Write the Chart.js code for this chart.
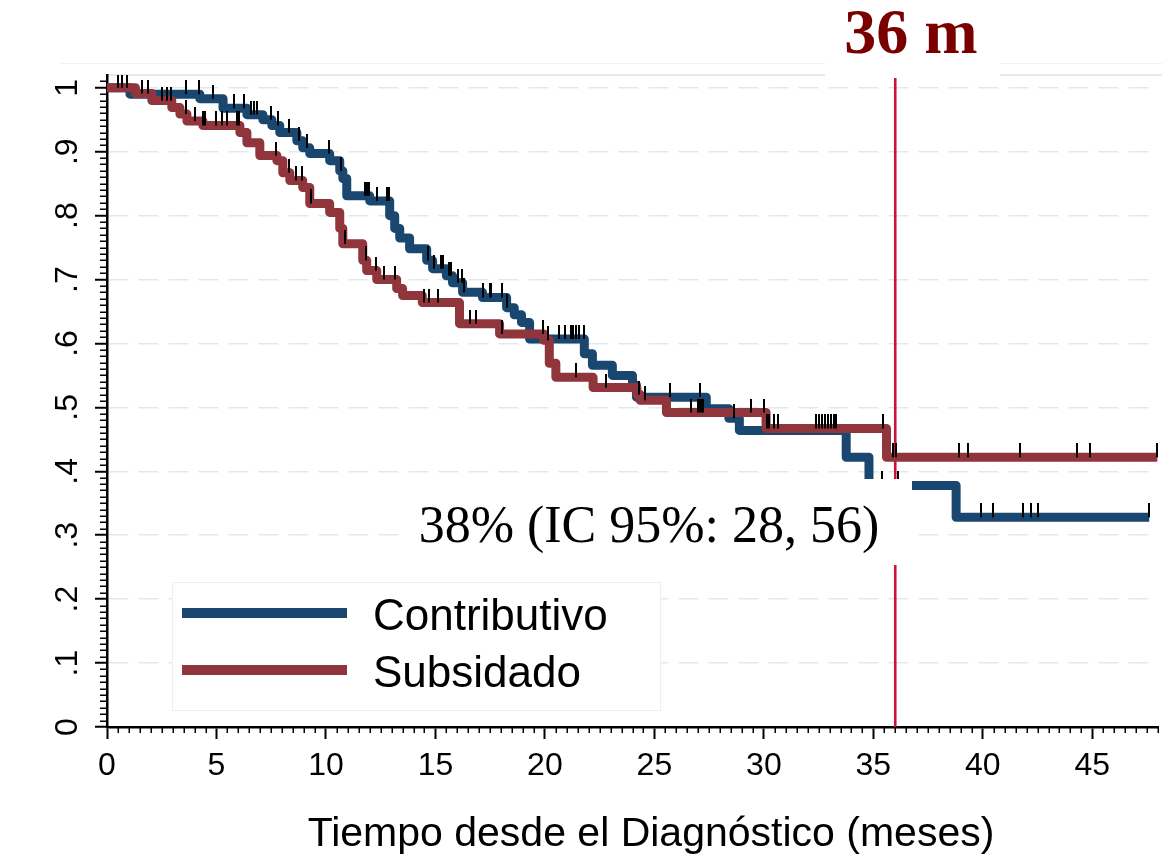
<!DOCTYPE html>
<html lang="es">
<head>
<meta charset="utf-8">
<title>Supervivencia según régimen</title>
<script src="https://cdn.jsdelivr.net/npm/chart.js@4"></script>
<style>
  html, body { margin: 0; padding: 0; background: #fff; }
  #wrap { width: 1162px; height: 860px; }
</style>
</head>
<body>
<div id="wrap"><canvas id="km" width="1162" height="860"></canvas></div>
<script>
// Kaplan–Meier estimates: month at which each step starts and the survival from there on
const contribStepTimes = [0, 1.05, 4.24, 5.3, 6.39, 7.12, 7.53, 7.89, 8.67, 8.94, 9.26, 10.17, 10.63, 10.77, 10.95, 12.0, 12.91, 13.14, 13.37, 13.82, 14.6, 14.87, 15.5, 15.78, 16.24, 17.15, 18.25, 18.6, 18.93, 19.3, 21.8, 22.17, 23.08, 24.0, 24.18, 27.37, 28.4, 28.88, 33.76, 34.8, 38.78];
const contribSurvival  = [1, 0.990, 0.983, 0.968, 0.958, 0.950, 0.941, 0.930, 0.917, 0.906, 0.897, 0.886, 0.870, 0.858, 0.831, 0.823, 0.800, 0.780, 0.765, 0.748, 0.730, 0.717, 0.706, 0.695, 0.680, 0.672, 0.656, 0.645, 0.633, 0.607, 0.584, 0.566, 0.550, 0.535, 0.516, 0.498, 0.483, 0.464, 0.422, 0.378, 0.328];
const contribLastTime  = 47.6;
// censored follow-up times (months)
const contribCensored  = [0.5, 0.68, 0.91, 3.63, 4.2, 4.85, 5.79, 6.25, 6.57, 6.71, 6.84, 7.48, 7.8, 8.3, 8.76, 9.12, 10.15, 10.68, 11.77, 11.86, 11.98, 12.32, 12.77, 12.86, 14.64, 14.92, 15.24, 15.33, 15.6, 15.69, 16.01, 16.2, 16.29, 17.15, 17.47, 17.56, 18.02, 18.29, 20.64, 20.9, 21.18, 21.28, 21.4, 21.56, 21.77, 25.73, 27.1, 28.65, 35.4, 36.13, 39.92, 40.47, 41.83, 42.2, 42.52, 47.58];

const subsStepTimes = [0, 1.3, 2.05, 2.96, 3.33, 3.65, 4.38, 6.07, 6.39, 6.98, 7.76, 8.03, 8.35, 8.94, 9.26, 10.17, 10.63, 10.77, 11.68, 11.86, 12.32, 13.23, 13.5, 14.4, 16.1, 17.93, 19.95, 20.2, 20.5, 22.2, 24.2, 24.35, 25.55, 30.1, 35.6];
const subsSurvival  = [1, 0.991, 0.980, 0.969, 0.959, 0.948, 0.941, 0.930, 0.914, 0.894, 0.886, 0.867, 0.855, 0.844, 0.819, 0.805, 0.780, 0.756, 0.730, 0.714, 0.700, 0.686, 0.675, 0.664, 0.631, 0.615, 0.605, 0.569, 0.547, 0.531, 0.520, 0.511, 0.492, 0.467, 0.422];
const subsLastTime  = 47.97;
const subsCensored  = [1.6, 1.87, 2.5, 2.75, 2.93, 3.6, 4.01, 4.4, 4.47, 5.0, 5.26, 5.5, 5.92, 6.05, 7.74, 8.3, 8.62, 8.9, 9.31, 10.88, 11.84, 12.27, 12.64, 13.14, 14.46, 14.69, 15.1, 16.56, 16.83, 18.02, 19.9, 20.12, 21.4, 22.81, 24.3, 24.59, 26.69, 27.01, 27.1, 27.19, 27.23, 29.43, 30.02, 30.12, 30.25, 30.47, 30.66, 32.4, 32.53, 32.66, 32.79, 32.92, 33.05, 33.18, 33.3, 35.45, 35.9, 36.04, 38.91, 39.32, 41.7, 44.3, 44.89, 47.95];

const seriesNames  = ['Contributivo', 'Subsidado'];
const xTickValues  = [0, 5, 10, 15, 20, 25, 30, 35, 40, 45];
const xTickLabels  = ['0', '5', '10', '15', '20', '25', '30', '35', '40', '45'];
const yTickValues  = [0, 0.1, 0.2, 0.3, 0.4, 0.5, 0.6, 0.7, 0.8, 0.9, 1];
const yTickLabels  = ['0', '.1', '.2', '.3', '.4', '.5', '.6', '.7', '.8', '.9', '1'];
const xAxisTitle   = 'Tiempo desde el Diagnóstico (meses)';
const landmarkMonth = 36;
const landmarkTitle = '36 m';
const landmarkNote  = '38% (IC 95%: 28, 56)';

const BLUE = '#1a476f';
const MAROON = '#90353b';
const SANS = '"Liberation Sans", Arial, sans-serif';
const SERIF = '"Liberation Serif", "Times New Roman", serif';

// step points for a KM curve, closed at the last follow-up time
function stepPoints(times, surv, last) {
  const pts = times.map((t, i) => ({ x: t, y: surv[i] }));
  pts.push({ x: last, y: surv[surv.length - 1] });
  return pts;
}
// right-continuous survival value at time t
function survivalAt(times, surv, t) {
  let s = surv[0];
  for (let i = 0; i < times.length; i++) if (times[i] <= t) s = surv[i];
  return s;
}
// censor mark: short vertical bar standing on the curve
function censorMark() {
  const c = document.createElement('canvas');
  c.width = 2; c.height = 28;
  const g = c.getContext('2d');
  g.fillStyle = '#000';
  g.fillRect(0, 0, 2, 14);
  return c;
}
const mark = censorMark();

const censorPoints = [
  ...contribCensored.map(t => ({ x: t, y: survivalAt(contribStepTimes, contribSurvival, t) })),
  ...subsCensored.map(t => ({ x: t, y: survivalAt(subsStepTimes, subsSurvival, t) }))
];

function hline(ctx, x1, y, x2) { ctx.beginPath(); ctx.moveTo(x1, y); ctx.lineTo(x2, y); ctx.stroke(); }
function vline(ctx, x, y1, y2) { ctx.beginPath(); ctx.moveTo(x, y1); ctx.lineTo(x, y2); ctx.stroke(); }

const decorations = {
  id: 'decorations',
  beforeDraw(chart) {
    const { ctx, chartArea: a } = chart;
    ctx.save();
    ctx.fillStyle = '#fff';
    ctx.fillRect(0, 0, chart.width, chart.height);
    ctx.strokeStyle = '#f0f2f3'; ctx.lineWidth = 1;
    hline(ctx, 60, 63.5, chart.width);
    ctx.strokeStyle = '#e4ebee'; ctx.lineWidth = 2;
    hline(ctx, a.left, a.top, chart.width);
    ctx.restore();
  },
  beforeDatasetsDraw(chart) {
    const { ctx, chartArea: a, scales: { x } } = chart;
    const px = x.getPixelForValue(landmarkMonth);
    ctx.save();
    ctx.strokeStyle = '#cc1237'; ctx.lineWidth = 2.6;
    vline(ctx, px, a.top + 2, a.bottom);
    ctx.restore();
  },
  afterDatasetsDraw(chart) {
    const { ctx } = chart;
    ctx.save();
    // landmark estimate
    ctx.fillStyle = '#fff';
    ctx.fillRect(405, 479, 507, 86);
    ctx.fillStyle = '#000';
    ctx.font = '52px ' + SERIF;
    ctx.textAlign = 'center'; ctx.textBaseline = 'alphabetic';
    ctx.fillText(landmarkNote, 649, 542);

    // legend
    ctx.fillStyle = '#fff';
    ctx.fillRect(172, 582, 488, 128);
    ctx.strokeStyle = '#eeeeee'; ctx.lineWidth = 1;
    ctx.strokeRect(172.5, 582.5, 488, 128);
    ctx.lineWidth = 10;
    ctx.strokeStyle = BLUE;   hline(ctx, 182, 613, 347);
    ctx.strokeStyle = MAROON; hline(ctx, 182, 670, 347);
    ctx.fillStyle = '#000';
    ctx.font = '44px ' + SANS;
    ctx.textAlign = 'left';
    ctx.fillText(seriesNames[0], 373, 630);
    ctx.fillText(seriesNames[1], 373, 687);
    ctx.restore();
  },
  afterDraw(chart) {
    const { ctx, chartArea: a, scales: { x, y } } = chart;
    ctx.save();
    // minor ticks
    ctx.strokeStyle = '#000'; ctx.lineWidth = 1.5;
    for (let i = 1; i * 0.5 <= x.max + 0.01; i++) {
      if (i % 10 === 0) continue;
      const px = Math.round(x.getPixelForValue(i * 0.5)) + 0.25;
      vline(ctx, px, a.bottom, a.bottom + 6);
    }
    for (let i = 1; i <= 101; i++) {
      if (i % 10 === 0) continue;
      const py = Math.round(y.getPixelForValue(i / 100)) + 0.25;
      hline(ctx, a.left - 7, py, a.left);
    }
    // landmark heading
    ctx.fillStyle = '#fff';
    ctx.fillRect(825, 50, 175, 28);
    ctx.fillStyle = '#7a0000';
    ctx.font = 'bold 64px ' + SERIF;
    ctx.textAlign = 'center'; ctx.textBaseline = 'alphabetic';
    ctx.fillText(landmarkTitle, 911, 53);
    // axis title
    ctx.fillStyle = '#000';
    ctx.font = '41px ' + SANS;
    ctx.fillText(xAxisTitle, 651, 846);
    ctx.restore();
  }
};

new Chart(document.getElementById('km'), {
  type: 'line',
  data: {
    datasets: [
      {
        label: 'censurados',
        data: censorPoints,
        showLine: false,
        pointStyle: mark,
        pointRadius: 3,
        pointHoverRadius: 3,
        order: 0
      },
      {
        label: seriesNames[1],
        data: stepPoints(subsStepTimes, subsSurvival, subsLastTime),
        stepped: true,
        borderColor: MAROON,
        borderWidth: 9,
        borderJoinStyle: 'round',
        pointRadius: 0,
        fill: false,
        order: 1
      },
      {
        label: seriesNames[0],
        data: stepPoints(contribStepTimes, contribSurvival, contribLastTime),
        stepped: true,
        borderColor: BLUE,
        borderWidth: 9,
        borderJoinStyle: 'round',
        pointRadius: 0,
        fill: false,
        order: 2
      }
    ]
  },
  options: {
    responsive: false,
    animation: false,
    devicePixelRatio: 1,
    layout: { padding: { top: 75, left: 0, right: 0, bottom: 0 } },
    plugins: { legend: { display: false }, tooltip: { enabled: false }, title: { display: false } },
    events: [],
    scales: {
      x: {
        type: 'linear', min: 0, max: 48,
        afterBuildTicks: s => { s.ticks = xTickValues.map(v => ({ value: v })); },
        afterFit: s => { s.height = 133; },
        ticks: {
          callback: (v, i) => xTickLabels[i],
          font: { family: SANS, size: 32 }, color: '#000',
          padding: 8, maxRotation: 0, autoSkip: false
        },
        grid: { drawOnChartArea: false, drawTicks: true, tickColor: '#000', tickLength: 12, tickWidth: 2 },
        border: { display: true, color: '#000', width: 2.5 }
      },
      y: {
        type: 'linear', min: 0, max: 1.02,
        afterBuildTicks: s => { s.ticks = yTickValues.map(v => ({ value: v })); },
        afterFit: s => { s.width = 107; },
        ticks: {
          callback: (v, i) => yTickLabels[i],
          font: { family: SANS, size: 32 }, color: '#000',
          minRotation: 90, maxRotation: 90, padding: 13, crossAlign: 'center', autoSkip: false
        },
        grid: {
          color: c => (c.tick && c.tick.value === 0) ? 'rgba(0,0,0,0)' : '#e1e9ec',
          lineWidth: 1.5, drawOnChartArea: true, tickColor: '#000', tickLength: 12, tickWidth: 2
        },
        border: { display: true, color: '#000', width: 2.5, dash: [20, 10] }
      }
    }
  },
  plugins: [decorations]
});
</script>
</body>
</html>
